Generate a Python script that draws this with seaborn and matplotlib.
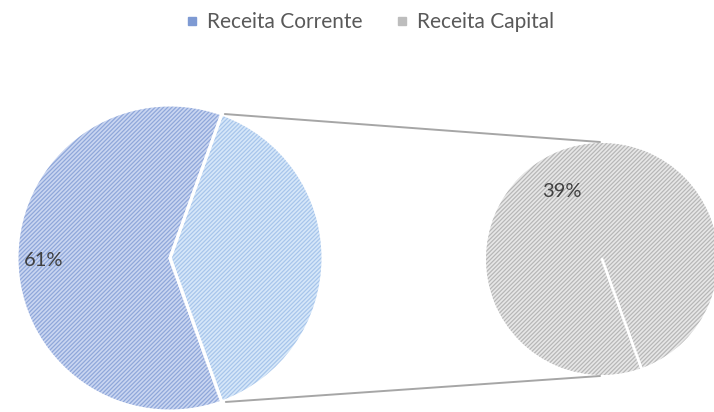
import numpy as np
import matplotlib
matplotlib.use('Agg')
import matplotlib.pyplot as plt
from matplotlib.lines import Line2D
import seaborn as sns

# data
categories = ['Receita Corrente', 'Receita Capital']
shares = [61, 39]

W, H = 714, 412


def main():
    sns.set_theme(style='white')
    plt.rcParams['font.family'] = ['Lato', 'DejaVu Sans']
    plt.rcParams['hatch.linewidth'] = 0.9

    fig = plt.figure(figsize=(W / 100, H / 100), dpi=100)
    ax = fig.add_axes([0, 0, 1, 1])

    # main pie (px layout, y flipped)
    c1 = (170, H - 258)
    r1 = 153
    start = shares[1] * 3.6 / 2
    wedges, _ = ax.pie(shares, center=c1, radius=r1, startangle=start,
                       colors=['#CAD6F1', '#D6E7F9'], hatch='////////',
                       wedgeprops=dict(linewidth=0))
    wedges[0].set_edgecolor('#8FA7DA')
    wedges[1].set_edgecolor('#A7C5EB')
    for w in wedges:
        w.set_linewidth(0)
    ax.pie(shares, center=c1, radius=r1, startangle=start,
           wedgeprops=dict(fill=False, edgecolor='white', linewidth=2.2))

    # secondary pie
    c2 = (602, H - 259)
    r2 = 116
    w2, _ = ax.pie([shares[1]], center=c2, radius=r2, startangle=-start,
                   colors=['#E7E7E7'], hatch='////////', wedgeprops=dict(linewidth=0))
    w2[0].set_edgecolor('#B7B7B7')
    w2[0].set_linewidth(0)
    a = np.deg2rad(-start)
    ax.plot([c2[0], c2[0] + r2 * np.cos(a)], [c2[1], c2[1] + r2 * np.sin(a)],
            color='white', lw=2)

    # connector lines
    t = np.deg2rad(start)
    top1 = (c1[0] + r1 * np.cos(t) + 3, c1[1] + r1 * np.sin(t))
    bot1 = (c1[0] + r1 * np.cos(t) + 4, c1[1] - r1 * np.sin(t))
    ax.plot([top1[0], c2[0] - 2], [top1[1], c2[1] + r2 + 1], color='#A6A6A6', lw=1.4)
    ax.plot([bot1[0], c2[0] - 2], [bot1[1], c2[1] - r2 - 1], color='#A6A6A6', lw=1.4)

    # labels
    ax.text(44, H - 261, f'{shares[0]}%', ha='center', va='center',
            fontsize=14.5, color='#404040')
    ax.text(562, H - 191, f'{shares[1]}%', ha='center', va='center',
            fontsize=14.5, color='#404040')

    handles = [Line2D([], [], marker='s', ls='', color='#7E9AD3', markersize=5.5),
               Line2D([], [], marker='s', ls='', color='#BDBDBD', markersize=5.5)]
    fig.legend(handles, categories, loc='center', bbox_to_anchor=(0.518, 1 - 22 / H),
               ncol=2, frameon=False, fontsize=15, handlelength=0.6,
               handletextpad=0.4, columnspacing=1.6, labelcolor='#595959')

    ax.set_xlim(0, W)
    ax.set_ylim(0, H)
    ax.set_aspect('equal')
    ax.axis('off')

    fig.savefig('out.png', dpi=100)


if __name__ == '__main__':
    main()
